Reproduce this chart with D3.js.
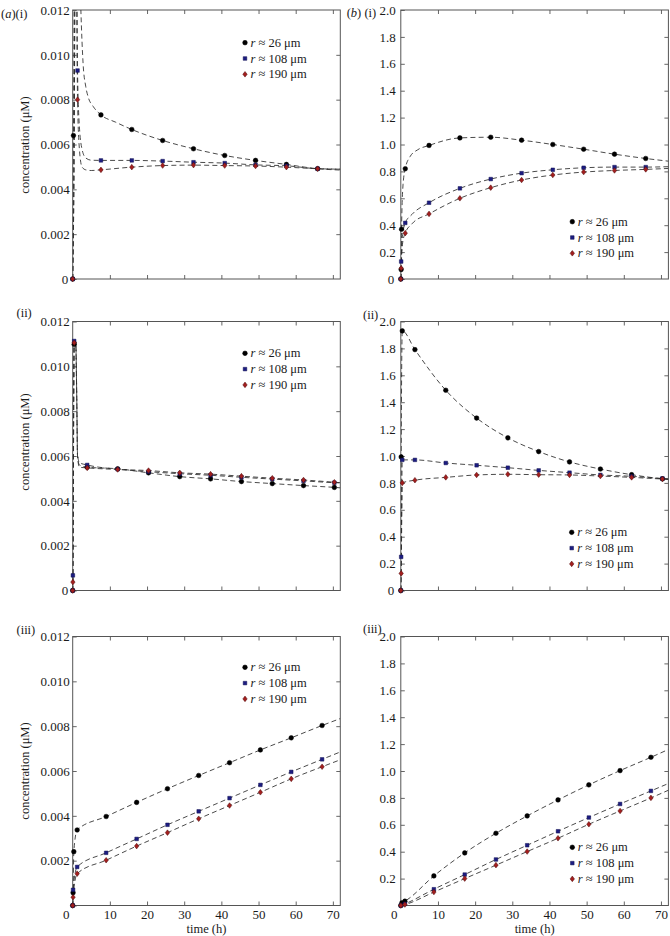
<!DOCTYPE html>
<html><head><meta charset="utf-8">
<script src="https://cdn.jsdelivr.net/npm/d3@7"></script>
<style>
body{margin:0;background:#fff}
svg{display:block}
</style>
</head><body>
<svg id="c" width="670" height="936"></svg>
<script>
// ---------------- DATA ----------------
const radii = ["26", "108", "190"];
const xTicks = [0, 10, 20, 30, 40, 50, 60, 70];
const yTicksA = [0, 0.002, 0.004, 0.006, 0.008, 0.010, 0.012];
const yTicksB = [0, 0.2, 0.4, 0.6, 0.8, 1.0, 1.2, 1.4, 1.6, 1.8, 2.0];

// (a)(i)
const tA1 = [0, 0.2, 1.3, 7.6, 15.9, 24.2, 32.5, 40.9, 49.2, 57.5, 65.9];
const a1_r26  = [0, 0.0064, null, 0.00732, 0.00667, 0.00618, 0.00581, 0.00551, 0.00529, 0.00511, 0.00492];
const a1_r108 = [0, null, 0.0093, 0.00529, 0.00529, 0.00526, 0.00521, 0.00517, 0.00509, 0.00505, 0.00492];
const a1_r190 = [0, null, 0.0080, 0.00487, 0.00499, 0.00506, 0.00508, 0.00506, 0.00504, 0.00499, 0.00492];
const a1_fit26  = [[0.6, 0.016], [1.6, 0.016], [2.2, 0.012], [2.8, 0.0096], [3.5, 0.0086], [4.2, 0.0081], [5.5, 0.0077], [11.5, 0.0070], [72, 0.00486]];
const a1_fit108 = [[0.4, 0.006], [0.7, 0.016], [0.95, 0.016], [1.8, 0.0068], [2.5, 0.0058], [3.5, 0.0054], [5, 0.0053], [72, 0.0049]];
const a1_fit190 = [[0.4, 0.006], [0.7, 0.016], [0.9, 0.016], [1.8, 0.0058], [2.5, 0.0050], [3.5, 0.00487], [5, 0.00484], [72, 0.0049]];

// (b)(i)
const tB1 = [0, 0.1, 0.2, 1.2, 7.6, 15.9, 24.2, 32.5, 40.9, 49.2, 57.5, 65.9];
const b1_r26  = [0, 0.07, 0.37, 0.82, 0.993, 1.049, 1.054, 1.032, 1.0, 0.965, 0.928, 0.896];
const b1_r108 = [0, 0.13, null, 0.417, 0.567, 0.674, 0.743, 0.787, 0.812, 0.827, 0.832, 0.832];
const b1_r190 = [0, 0.08, null, 0.341, 0.484, 0.6, 0.679, 0.736, 0.773, 0.795, 0.807, 0.815];
const b1_fit26  = [[0.6, 0.70], [2.5, 0.91], [4.5, 0.96], [72, 0.876]];
const b1_fit108 = [[0.5, 0.33], [3, 0.48], [72, 0.835]];
const b1_fit190 = [[0.5, 0.27], [3, 0.41], [72, 0.822]];

// (a)(ii)
const tA2 = [0, 0.05, 0.4, 3.9, 12.1, 20.4, 28.8, 37.1, 45.4, 53.7, 62.1, 70.4];
const a2_r26  = [0, null, 0.01098, 0.0055, 0.00543, 0.00525, 0.00508, 0.00498, 0.00486, 0.00477, 0.00468, 0.0046];
const a2_r108 = [0, 0.000675, 0.01113, 0.0056, 0.00541, 0.0053, 0.00521, 0.00514, 0.00505, 0.00497, 0.00489, 0.00481];
const a2_r190 = [0, 0.000375, 0.01105, 0.00547, 0.0054, 0.00535, 0.00525, 0.00519, 0.0051, 0.00501, 0.00493, 0.00483];
const a2_fit26  = [[0.8, 0.0111], [1.1, 0.0085], [1.3, 0.0060], [1.8, 0.0056], [72, 0.00458]];
const a2_fit108 = [[0.8, 0.0112], [1.1, 0.0085], [1.3, 0.0061], [1.8, 0.0057], [72, 0.0048]];
const a2_fit190 = [[0.8, 0.0111], [1.1, 0.0085], [1.3, 0.0060], [1.8, 0.0055], [72, 0.00481]];

// (b)(ii)
const tB2 = [0, 0.1, 0.4, 3.8, 12.1, 20.4, 28.8, 37.1, 45.4, 53.7, 62.1, 70.4];
const b2_r26  = [0, 0.993, 1.93, 1.791, 1.489, 1.282, 1.135, 1.033, 0.956, 0.903, 0.861, 0.83];
const b2_r108 = [0, 0.25, 0.971, 0.971, 0.948, 0.931, 0.913, 0.893, 0.876, 0.859, 0.849, 0.833];
const b2_r190 = [0, 0.127, 0.80, 0.82, 0.841, 0.859, 0.864, 0.861, 0.859, 0.851, 0.841, 0.829];
const b2_fit26  = [[72, 0.825]];
const b2_fit108 = [[72, 0.831]];
const b2_fit190 = [[72, 0.827]];

// (a)(iii)
const tA3 = [0, 0.1, 0.3, 1.2, 9, 17.2, 25.5, 33.9, 42.2, 50.5, 58.8, 67.1];
const a3_r26  = [0, 0.00057, 0.0024, 0.00337, 0.00397, 0.0046, 0.00521, 0.0058, 0.00637, 0.00694, 0.00748, 0.00803];
const a3_r108 = [0, 0.0007, null, 0.00172, 0.00235, 0.00297, 0.0036, 0.0042, 0.00479, 0.00538, 0.00596, 0.00652];
const a3_r190 = [0, 0.00037, null, 0.00142, 0.00202, 0.00265, 0.00325, 0.00387, 0.00446, 0.00505, 0.00565, 0.00619];
const a3_fit26  = [[72, 0.00834]];
const a3_fit108 = [[72, 0.00685]];
const a3_fit190 = [[72, 0.0065]];

// (b)(iii)
const tB3 = [0, 0.3, 1.1, 8.9, 17.2, 25.6, 34, 42.3, 50.6, 59, 67.3];
const b3_r26  = [0, 0.02, 0.032, 0.22, 0.391, 0.537, 0.666, 0.785, 0.897, 1.003, 1.102];
const b3_r108 = [0, null, 0.012, 0.121, 0.23, 0.342, 0.448, 0.552, 0.654, 0.755, 0.852];
const b3_r190 = [0, null, 0.007, 0.1, 0.2, 0.3, 0.401, 0.5, 0.604, 0.703, 0.8];
const b3_fit26  = [[72, 1.16]];
const b3_fit108 = [[72, 0.907]];
const b3_fit190 = [[72, 0.857]];

// ---------------- LAYOUT ----------------
const FONT = "Liberation Serif";
const tMax = 72;
const W = 267.6, H = 269;
const colLeft = [72.7, 400.8];
const rowTop = [10, 321.5, 636.5];

const panels = [
  {col:0,row:0,t:tA1,series:[a1_r26,a1_r108,a1_r190],fits:[a1_fit26,a1_fit108,a1_fit190],ymax:0.012,yTicks:yTicksA,fmt:d=>d===0?"0":d.toFixed(3),
   label:[{t:"(",i:false},{t:"a",i:true},{t:")(i)",i:false}],lx:1,ly:17.5,legX:245,legY:42.7,titleY:145},
  {col:1,row:0,t:tB1,series:[b1_r26,b1_r108,b1_r190],fits:[b1_fit26,b1_fit108,b1_fit190],ymax:2.0,yTicks:yTicksB,fmt:d=>d===0?"0":d.toFixed(1),
   label:[{t:"(",i:false},{t:"b",i:true},{t:") (i)",i:false}],lx:346.7,ly:16.5,legX:572.3,legY:221.7},
  {col:0,row:1,t:tA2,series:[a2_r26,a2_r108,a2_r190],fits:[a2_fit26,a2_fit108,a2_fit190],ymax:0.012,yTicks:yTicksA,fmt:d=>d===0?"0":d.toFixed(3),
   label:[{t:"(ii)",i:false}],lx:16.5,ly:317,legX:245,legY:353.3,titleY:442},
  {col:1,row:1,t:tB2,series:[b2_r26,b2_r108,b2_r190],fits:[b2_fit26,b2_fit108,b2_fit190],ymax:2.0,yTicks:yTicksB,fmt:d=>d===0?"0":d.toFixed(1),
   label:[{t:"(ii)",i:false}],lx:363,ly:318.5,legX:571.7,legY:532.3},
  {col:0,row:2,t:tA3,series:[a3_r26,a3_r108,a3_r190],fits:[a3_fit26,a3_fit108,a3_fit190],ymax:0.012,yTicks:yTicksA,fmt:d=>d===0?"":d.toFixed(3),
   label:[{t:"(iii)",i:false}],lx:16.5,ly:634,legX:245,legY:667.3,titleY:771},
  {col:1,row:2,t:tB3,series:[b3_r26,b3_r108,b3_r190],fits:[b3_fit26,b3_fit108,b3_fit190],ymax:2.0,yTicks:yTicksB,fmt:d=>d===0?"":d.toFixed(1),
   label:[{t:"(iii)",i:false}],lx:363,ly:632.5,legX:572.3,legY:847.3}
];

const frameColor = "#555";
const textColor = "#1a1a1a";
const markerColors = [{fill:"#000",stroke:"#000"},{fill:"#1c1c82",stroke:"#101050"},{fill:"#a31e1e",stroke:"#4d0c0c"}];

function markerPath(k){
  if(k===0){ return d3.symbol(d3.symbolCircle, 17)(); }
  if(k===1){ return "M-1.8,-1.8H1.8V1.8H-1.8Z"; }
  return "M0,-2.8L2.2,0L0,2.8L-2.2,0Z";
}
function serif(sel, size){
  return sel.style("font-family", FONT).style("font-size", size + "px").style("fill", textColor);
}

const svg = d3.select("#c");

panels.forEach((p, i) => {
  const left = colLeft[p.col], top = rowTop[p.row];
  const x = d3.scaleLinear().domain([0, tMax]).range([left, left + W]);
  const y = d3.scaleLinear().domain([0, p.ymax]).range([top + H, top]);
  const isBottom = p.row === 2;
  const pad = p.col === 0 ? 3 : 5;

  const cid = "clip" + i;
  svg.append("clipPath").attr("id", cid).append("rect")
    .attr("x", left).attr("y", top).attr("width", W).attr("height", H);

  const gB = svg.append("g").attr("transform", `translate(0,${top + H})`)
    .call(d3.axisBottom(x).tickValues(xTicks).tickSize(-4).tickPadding(4.5)
      .tickFormat(d => isBottom ? String(d) : ""));
  const gT = svg.append("g").attr("transform", `translate(0,${top})`)
    .call(d3.axisTop(x).tickValues(xTicks.filter(d => d > 0)).tickSize(-4).tickFormat(""));
  const gL = svg.append("g").attr("transform", `translate(${left},0)`)
    .call(d3.axisLeft(y).tickValues(p.yTicks).tickSize(-4).tickPadding(pad).tickFormat(p.fmt));
  const gR = svg.append("g").attr("transform", `translate(${left + W},0)`)
    .call(d3.axisRight(y).tickValues(p.yTicks.filter(d => d > 0 && d < p.ymax)).tickSize(-4).tickFormat(""));
  [gB, gT, gL, gR].forEach(g => {
    g.select(".domain").remove();
    g.attr("font-family", null).attr("font-size", null);
    g.selectAll("line").attr("stroke", frameColor).attr("stroke-width", 0.9);
    serif(g.selectAll("text"), 13);
  });
  gB.selectAll("g.tick").filter(d => d === 0).select("line").remove();
  gB.selectAll("text").filter(d => d === 0).attr("dx", -7);
  gL.selectAll("text").filter(d => d === 0).attr("dx", -1.5);

  svg.append("rect").attr("x", left).attr("y", top).attr("width", W).attr("height", H)
    .attr("fill", "none").attr("stroke", frameColor).attr("stroke-width", 1);

  const line = d3.line().x(d => x(d[0])).y(d => y(d[1])).curve(d3.curveMonotoneX);
  p.series.forEach((vals, k) => {
    const pts = p.t.map((t, j) => [t, vals[j]]).filter(d => d[1] != null)
      .concat(p.fits[k]).sort((a, b) => a[0] - b[0]);
    svg.append("path").attr("clip-path", `url(#${cid})`).attr("d", line(pts))
      .attr("fill", "none").attr("stroke", "#2a2a2a").attr("stroke-width", 0.85)
      .attr("stroke-dasharray", "5,3.2");
  });

  p.series.forEach((vals, k) => {
    const pts = p.t.map((t, j) => [t, vals[j]]).filter(d => d[1] != null);
    svg.append("g").selectAll("path").data(pts).join("path")
      .attr("transform", d => `translate(${x(d[0])},${y(d[1])})`)
      .attr("d", markerPath(k))
      .attr("fill", markerColors[k].fill).attr("stroke", markerColors[k].stroke).attr("stroke-width", 0.5);
  });

  radii.forEach((r, k) => {
    const ly = p.legY + k * 15.8;
    svg.append("path").attr("transform", `translate(${p.legX},${ly})`).attr("d", markerPath(k))
      .attr("fill", markerColors[k].fill).attr("stroke", markerColors[k].stroke).attr("stroke-width", 0.5);
    const tx = serif(svg.append("text"), 12.5).attr("x", p.legX + 5.5).attr("y", ly).attr("dy", "0.33em");
    tx.append("tspan").style("font-style", "italic").text("r");
    tx.append("tspan").text(" \u2248 " + r + " \u03bcm");
  });

  const lt = serif(svg.append("text"), 12.5).attr("x", p.lx).attr("y", p.ly);
  p.label.forEach(s => lt.append("tspan").style("font-style", s.i ? "italic" : "normal").text(s.t));

  if (p.col === 0) {
    serif(svg.append("text"), 12.5).attr("transform", `translate(25,${p.titleY}) rotate(-90)`)
      .attr("text-anchor", "middle").attr("dy", "0.35em")
      .text("concentration (\u03bcM)");
  }
  if (isBottom) {
    serif(svg.append("text"), 12.5).attr("x", left + W / 2).attr("y", 933).attr("text-anchor", "middle")
      .text("time (h)");
  }
});
</script>
</body></html>
